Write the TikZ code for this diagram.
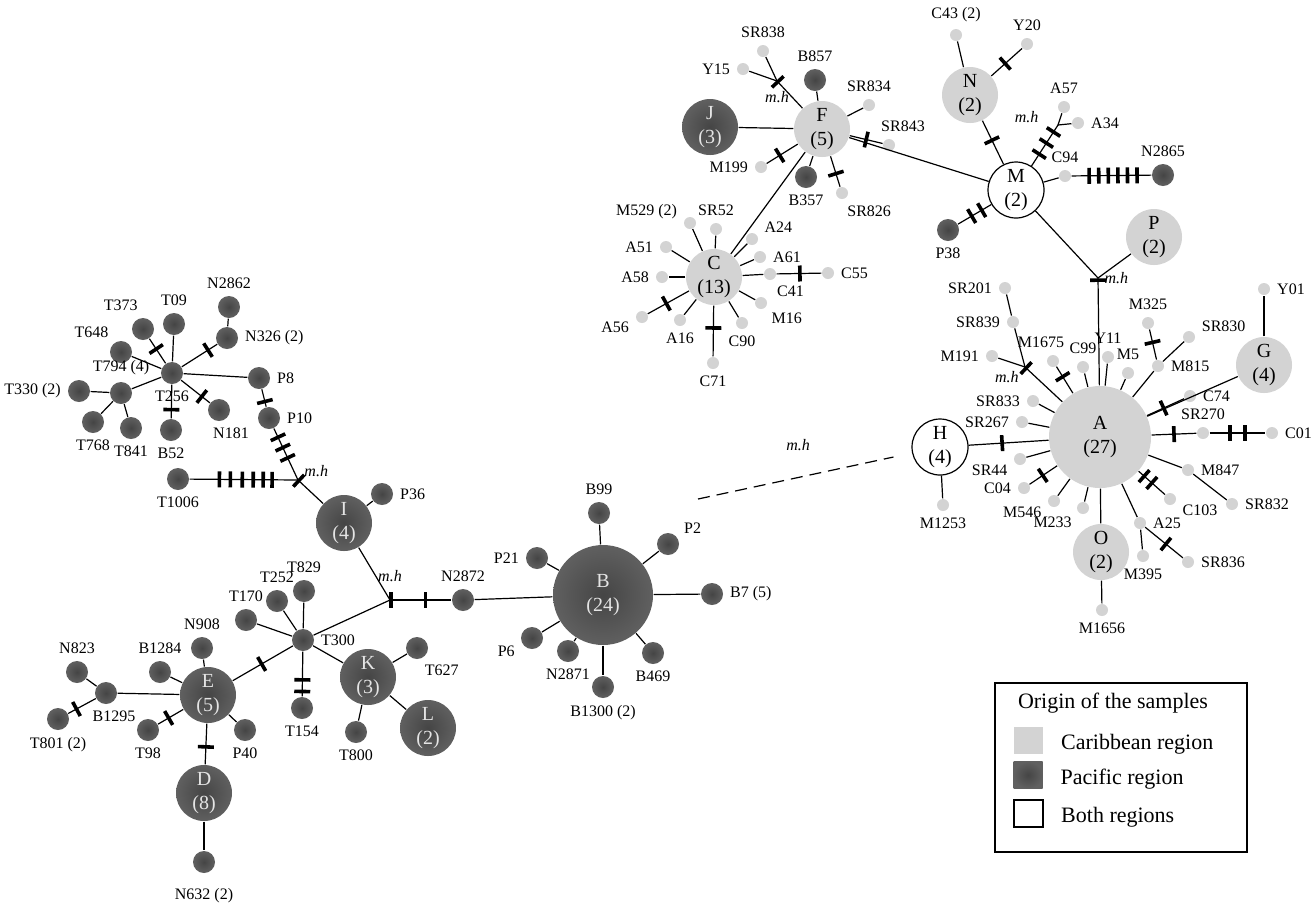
\documentclass[tikz,border=0pt]{standalone}
\usepackage{fontspec}
\setmainfont{Liberation Serif}
\usetikzlibrary{positioning, decorations.markings}

\definecolor{carib}{HTML}{D3D3D3}
\definecolor{pacin}{HTML}{454545}
\definecolor{pacout}{HTML}{606060}
\definecolor{pactext}{HTML}{E4E4E4}

\newcommand{\lblfont}{\fontsize{8}{9.6}\selectfont}
\newcommand{\hapfont}{\fontsize{10}{12}\selectfont}
\newcommand{\legfont}{\fontsize{11}{13}\selectfont}

\tikzset{
  hap/.style={circle, inner sep=0pt},
  car/.style={hap, fill=carib, minimum size=6pt},
  pac/.style={hap, inner color=pacin, outer color=pacout, minimum size=11pt},
  bigcar/.style={hap, fill=carib, minimum size=28pt, font=\hapfont, align=center},
  bigpac/.style={hap, inner color=pacin, outer color=pacout, minimum size=28pt, font=\hapfont, align=center, text=pactext},
  both/.style={hap, draw, fill=white, minimum size=28pt, font=\hapfont, align=center},
  every label/.style={font=\lblfont, inner sep=1pt},
  mh/.style={font=\lblfont\itshape},
  mut/.style={postaction={decorate, decoration={markings, mark=at position #1 with {\fill (-0.9pt,-4pt) rectangle (0.9pt,4pt);}}}},
  legsq/.style={rectangle, inner sep=0pt, minimum width=14.5pt, minimum height=13.5pt}
}

\begin{document}
\begin{tikzpicture}[x=0.5pt, y=-0.5pt, line width=0.6pt, label distance=2pt]
\useasboundingbox (0,0) rectangle (1316,902);

% T256 / T794 group
\node[pac, label=below:T256] (T256) at (172,373) {};
\node[pac, label=100:T373] (T373) at (143,329) {};
\node[pac, label=above:T09] (T09) at (174,324) {};
\node[pac, label=above:N2862] (N2862) at (229,307) {};
\node[pac, label={right:N326 (2)}] (N326) at (227,338) {};
\node[pac, label=130:T648] (T648) at (121,352) {};
\node[pac, label={above:T794 (4)}] (T794) at (121,393) {};
\node[pac, label={left:T330 (2)}] (T330) at (79,391) {};
\node[pac, label=below:T768] (T768) at (93,422) {};
\node[pac, label=below:T841] (T841) at (131,428) {};
\node[pac, label=below:B52] (B52) at (171,430) {};
\node[pac, label={[xshift=6pt]below:N181}] (N181) at (219,410) {};
\node[pac, label=right:P8] (P8) at (259,378) {};
\node[pac, label=right:P10] (P10) at (269,418) {};
\node[pac, label=below:T1006] (T1006) at (178,479) {};
\coordinate[label={[mh]15:m.h}] (mh1) at (298,480);

\node[bigpac] (I) at (344,523) {I\\(4)};
\node[pac, label=right:P36] (P36) at (382,494) {};
\coordinate[label={[mh, yshift=6pt]above:m.h}] (mh2) at (390,600);
\node[pac, label=above:N2872] (N2872) at (463,600) {};

% T300 / E group
\node[pac, label=right:T300] (T300) at (303,640) {};
\node[pac, label=above:T829] (T829) at (304,591) {};
\node[pac, label=above:T252] (T252) at (277,601) {};
\node[pac, label=above:T170] (T170) at (246,620) {};
\node[pac, label=below:T154] (T154) at (302,708) {};
\node[bigpac] (K) at (368,677) {K\\(3)};
\node[pac, label=-70:T627] (T627) at (417,648) {};
\node[pac, label=below:T800] (T800) at (356,732) {};
\node[bigpac] (L) at (428,728) {L\\(2)};
\node[bigpac] (E) at (208,695) {E\\(5)};
\node[pac, label=above:N908] (N908) at (202,648) {};
\node[pac, label=above:B1284] (B1284) at (160,672) {};
\node[pac, label={[xshift=4pt]below:B1295}] (B1295) at (106,693) {};
\node[pac, label=above:N823] (N823) at (77,672) {};
\node[pac, label={below:T801 (2)}] (T801) at (58,719) {};
\node[pac, label=below:T98] (T98) at (148,730) {};
\node[pac, label=below:P40] (P40) at (245,730) {};
\node[bigpac] (D) at (204,793) {D\\(8)};
\node[pac, label={[yshift=-4pt]below:N632 (2)}] (N632) at (204,862) {};

% B group
\node[bigpac, minimum size=50pt] (B) at (603,595) {B\\(24)};
\node[pac, label=above:B99] (B99) at (599,513) {};
\node[pac, label=30:P2] (P2) at (668,544) {};
\node[pac, label=left:P21] (P21) at (537,558) {};
\node[pac, label={right:B7 (5)}] (B7) at (712,594) {};
\node[pac, label=200:P6] (P6) at (532,638) {};
\node[pac, label=below:N2871] (N2871) at (568,651) {};
\node[pac, label={below:B1300 (2)}] (B1300) at (603,687) {};
\node[pac, label=below:B469] (B469) at (653,653) {};
\coordinate (dashB) at (698,499);

% F / C / J group
\node[bigcar] (F) at (822,129) {F\\(5)};
\node[bigpac] (J) at (710,127) {J\\(3)};
\node[pac, label=above:B857] (B857) at (815,80) {};
\coordinate[label={[mh, yshift=-2pt]below:m.h}] (mhF) at (777,81);
\node[car, label=above:SR838] (SR838) at (763,51) {};
\node[car, label=left:Y15] (Y15) at (743,69) {};
\node[car, label=above:SR834] (SR834) at (869,105) {};
\node[car, label={[xshift=7pt]above:SR843}] (SR843) at (889,145) {};
\node[car, label=left:M199] (M199) at (761,167) {};
\node[pac, label=below:B357] (B357) at (806,177) {};
\node[car, label=-75:SR826] (SR826) at (842,193) {};
\node[bigcar] (C) at (714,277) {C\\(13)};
\node[car, label={170:M529 (2)}] (M529) at (690,223) {};
\node[car, label=above:SR52] (SR52) at (716,229) {};
\node[car, label=20:A24] (A24) at (752,239) {};
\node[car, label=left:A51] (A51) at (666,247) {};
\node[car, label=right:A61] (A61) at (760,257) {};
\node[car, label=left:A58] (A58) at (662,277) {};
\node[car, label=-65:C41] (C41) at (770,274) {};
\node[car, label=right:C55] (C55) at (828,273) {};
\node[car, label=-40:M16] (M16) at (761,303) {};
\node[car, label=190:A56] (A56) at (642,317) {};
\node[car, label=below:A16] (A16) at (680,320) {};
\node[car, label=below:C90] (C90) at (742,323) {};
\node[car, label=below:C71] (C71) at (713,363) {};

% N / M / P group
\node[bigcar] (N) at (970,95) {N\\(2)};
\node[car, label={above:C43 (2)}] (C43) at (956,35) {};
\node[car, label=above:Y20] (Y20) at (1027,44) {};
\node[both] (M) at (1016,190) {M\\(2)};
\coordinate[label={[mh, xshift=-6.5pt, yshift=4pt]left:m.h}] (mhM) at (1058,125);
\node[car, label=above:A57] (A57) at (1064,107) {};
\node[car, label=right:A34] (A34) at (1078,123) {};
\node[car, label=above:C94] (C94) at (1065,176) {};
\node[pac, label=above:N2865] (N2865) at (1163,175) {};
\node[pac, label=below:P38] (P38) at (948,230) {};
\node[bigcar] (P) at (1154,237) {P\\(2)};
\coordinate[label={[mh]right:m.h}] (mh3) at (1098,278);

% A group
\node[bigcar, minimum size=51pt] (A) at (1100,437) {A\\(27)};
\node[both] (H) at (940,447) {H\\(4)};
\node[car, label=below:M1253] (M1253) at (943,505) {};
\node[car, label=left:SR201] (SR201) at (1005,288) {};
\node[car, label=left:SR839] (SR839) at (1013,322) {};
\node[car, label=left:M191] (M191) at (992,356) {};
\coordinate[label={[mh]200:m.h}] (mhA) at (1025,367);
\node[car, label={[xshift=-6pt]above:M1675}] (M1675) at (1053,361) {};
\node[car, label=above:C99] (C99) at (1083,367) {};
\node[car, label=above:Y11] (Y11) at (1108,357) {};
\node[car, label=above:M5] (M5) at (1128,373) {};
\node[car, label=above:M325] (M325) at (1148,323) {};
\node[car, label=right:M815] (M815) at (1158,366) {};
\node[car, label=15:SR830] (SR830) at (1189,337) {};
\node[bigcar] (G) at (1264,365) {G\\(4)};
\node[car, label=right:Y01] (Y01) at (1264,289) {};
\node[car, label=right:C74] (C74) at (1190,396) {};
\node[car, label=above:SR270] (SR270) at (1203,433) {};
\node[car, label=right:C01] (C01) at (1272,433) {};
\node[car, label=right:M847] (M847) at (1188,470) {};
\node[car, label=right:SR832] (SR832) at (1232,504) {};
\node[car, label=-20:C103] (C103) at (1170,499) {};
\node[car, label=right:A25] (A25) at (1140,523) {};
\node[car, label=below:M395] (M395) at (1143,556) {};
\node[car, label=right:SR836] (SR836) at (1188,562) {};
\node[bigcar] (O) at (1101,552) {O\\(2)};
\node[car, label=below:M1656] (M1656) at (1102,610) {};
\node[car, label=215:M233] (M233) at (1083,508) {};
\node[car, label=200:M546] (M546) at (1054,501) {};
\node[car, label=left:C04] (C04) at (1024,488) {};
\node[car, label=200:SR44] (SR44) at (1020,459) {};
\node[car, label=left:SR267] (SR267) at (1022,422) {};
\node[car, label=left:SR833] (SR833) at (1033,401) {};

% links, left
\draw[mut=0.58] (T256) -- (T373);
\draw (T256) -- (T09);
\draw[mut=0.74] (T256) -- (N326);
\draw (N326) -- (N2862);
\draw (T256) -- (T648);
\draw (T256) -- (T794);
\draw[mut=0.74] (T256) -- (B52);
\draw[mut=0.72] (T256) -- (N181);
\draw (T256) -- (P8);
\draw (T794) -- (T330);
\draw (T794) -- (T768);
\draw (T794) -- (T841);
\draw[mut=0.7] (P8) -- (P10);
\draw[mut=0.17, mut=0.37, mut=0.57] (P10) -- (mh1);
\draw[mut=0.275, mut=0.376, mut=0.486, mut=0.587, mut=0.679, mut=0.761] (T1006) -- (mh1);
\draw[mut=0.03] (mh1) -- (I);
\draw (I) -- (P36);
\draw (I) -- (mh2);
\draw[mut=0.02, mut=0.58] (mh2) -- (N2872);
\draw (mh2) -- (T300);
\draw (N2872) -- (B);

\draw (T300) -- (T829);
\draw (T300) -- (T252);
\draw (T300) -- (T170);
\draw[mut=0.63, mut=0.89] (T300) -- (T154);
\draw (T300) -- (K);
\draw (K) -- (T627);
\draw (K) -- (T800);
\draw (K) -- (L);
\draw[mut=0.48] (E) -- (T300);
\draw (E) -- (N908);
\draw (E) -- (B1284);
\draw (E) -- (B1295);
\draw (E) -- (P40);
\draw (B1295) -- (N823);
\draw[mut=0.7] (B1295) -- (T801);
\draw[mut=0.58] (E) -- (T98);
\draw[mut=0.57] (E) -- (D);
\draw (D) -- (N632);

\draw (B) -- (B99);
\draw (B) -- (P2);
\draw (B) -- (P21);
\draw (B) -- (B7);
\draw (B) -- (P6);
\draw (B) -- (N2871);
\draw (B) -- (B1300);
\draw (B) -- (B469);
\draw[dash pattern=on 6pt off 3.5pt, shorten >=9.5pt] (dashB) -- node[mh, above=9pt, xshift=-3.5pt] (mhD) {m.h} (H);

% links, top
\draw (J) -- (F);
\draw (F) -- (B857);
\draw[mut=0.03] (mhF) -- (F);
\draw (Y15) -- (mhF);
\draw (SR838) -- (mhF);
\draw (F) -- (SR834);
\draw[mut=0.5] (F) -- (SR843);
\draw[mut=0.58] (F) -- (M199);
\draw (F) -- (B357);
\draw[mut=0.57] (F) -- (SR826);
\draw (F) -- (C);
\draw (F) -- (M);
\draw (C) -- (M529);
\draw (C) -- (SR52);
\draw (C) -- (A24);
\draw (C) -- (A51);
\draw (C) -- (A61);
\draw (C) -- (A58);
\draw (C) -- (C41);
\draw[mut=0.52] (C41) -- (C55);
\draw (C) -- (M16);
\draw[mut=0.55] (C) -- (A56);
\draw (C) -- (A16);
\draw (C) -- (C90);
\draw[mut=0.44] (C) -- (C71);

\draw (N) -- (C43);
\draw[mut=0.45] (N) -- (Y20);
\draw[mut=0.45] (N) -- (M);
\draw[mut=0.29, mut=0.56, mut=0.83] (M) -- (mhM);
\draw (mhM) -- (A57);
\draw (mhM) -- (A34);
\draw (M) -- (C94);
\draw[mut=0.22, mut=0.34, mut=0.46, mut=0.58, mut=0.70, mut=0.82] (C94) -- (N2865);
\draw[mut=0.29, mut=0.59] (M) -- (P38);
\draw (M) -- (mh3);
\draw (P) -- (mh3);
\draw[mut=0.02] (mh3) -- (A);

% links, A
\draw[mut=0.42] (H) -- (A);
\draw (H) -- (M1253);
\draw (SR201) -- (SR839);
\draw (SR839) -- (mhA);
\draw (M191) -- (mhA);
\draw[mut=0.03] (mhA) -- (A);
\draw[mut=0.38] (M1675) -- (A);
\draw (A) -- (C99);
\draw (A) -- (Y11);
\draw (A) -- (M5);
\draw (A) -- (M815);
\draw (M815) -- (SR830);
\draw[mut=0.43] (M325) -- (M815);
\draw (A) -- (G);
\draw (G) -- (Y01);
\draw[mut=0.45] (A) -- (C74);
\draw[mut=0.5] (A) -- (SR270);
\draw[mut=0.37, mut=0.63] (SR270) -- (C01);
\draw (A) -- (M847);
\draw (M847) -- (SR832);
\draw[mut=0.21, mut=0.5] (A) -- (C103);
\draw (A) -- (A25);
\draw (A25) -- (M395);
\draw[mut=0.55] (A25) -- (SR836);
\draw (A) -- (O);
\draw (O) -- (M1656);
\draw (A) -- (M233);
\draw (A) -- (M546);
\draw[mut=0.52] (A) -- (C04);
\draw (A) -- (SR44);
\draw (A) -- (SR267);
\draw (A) -- (SR833);

% legend
\node[draw, minimum width=126pt, minimum height=84.5pt, inner sep=0pt] (legend) at (1121,767.5) {};
\node[font=\legfont] (legtitle) at (1113,703) {Origin of the samples};
\node[legsq, fill=carib, label={[font=\legfont, xshift=5.5pt, yshift=-2pt]right:Caribbean region}] (sqC) at (1028.5,740) {};
\node[legsq, inner color=pacin, outer color=pacout, label={[font=\legfont, xshift=5.5pt, yshift=-2pt]right:Pacific region}] (sqP) at (1028,775) {};
\node[legsq, draw, fill=white, label={[font=\legfont, xshift=5.5pt, yshift=-2pt]right:Both regions}] (sqB) at (1028.5,813.5) {};
\end{tikzpicture}
\end{document}
